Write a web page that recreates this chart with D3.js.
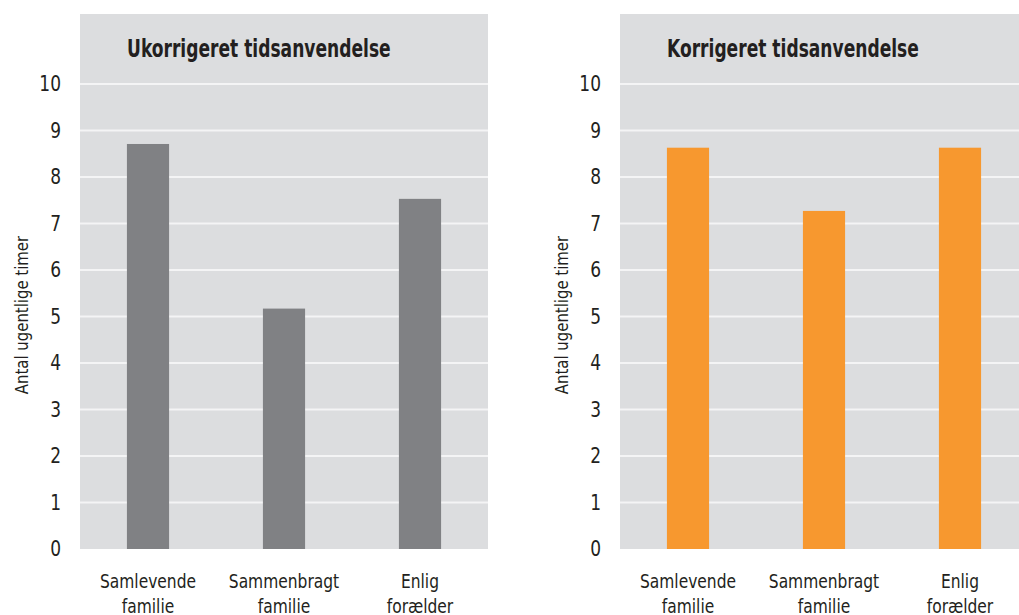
<!DOCTYPE html>
<html>
<head>
<meta charset="utf-8">
<script src="https://cdn.jsdelivr.net/npm/d3@7"></script>
<style>
  body { margin: 0; background: #fff; }
  svg text { font-family: "DejaVu Sans Condensed", "Open Sans", sans-serif; fill: #231f20; }
</style>
</head>
<body>
<div id="chart"></div>
<script>
// data
const categories = [["Samlevende", "familie"], ["Sammenbragt", "familie"], ["Enlig", "forælder"]];
const uncorrected = [8.71, 5.17, 7.53];
const corrected = [8.63, 7.27, 8.63];
const titles = ["Ukorrigeret tidsanvendelse", "Korrigeret tidsanvendelse"];
const colors = ["#808184", "#f7982f"];
const yTicks = [0, 1, 2, 3, 4, 5, 6, 7, 8, 9, 10];
const yLabel = "Antal ugentlige timer";

const width = 1019, height = 615;

const svg = d3
  .select("#chart")
  .append("svg")
  .attr("width", width)
  .attr("height", height);

const panelW = 408;
const panelTop = 14, panelBottom = 549;

const y = d3.scaleLinear().domain([0, 10]).range([panelBottom, panelBottom - 465]);

//squeeze text horizontally so it looks like the narrow font in the original.
//anchor is handled here (start/middle/end) since textLength + anchor is unreliable
function condense(sel, factor, anchor) {
  sel.each(function () {
    const el = d3.select(this);
    const w = this.getComputedTextLength() * factor;
    const x0 = +el.attr("x") || 0;
    let x = x0;
    if (anchor === "middle") x = x0 - w / 2;
    if (anchor === "end") x = x0 - w;
    el.attr("text-anchor", "start")
      .attr("x", x)
      .attr("textLength", w)
      .attr("lengthAdjust", "spacingAndGlyphs");
  });
}

function drawPanel(offsetX, values, title, color) {
  const g = svg.append("g").attr("transform", `translate(${offsetX},0)`);

  const x = d3
    .scaleBand()
    .domain(d3.range(values.length))
    .range([0, panelW])
    .paddingInner(0.69)
    .paddingOuter(0.345);

  //grey background
  g.append("rect")
    .attr("x", 0)
    .attr("y", panelTop)
    .attr("width", panelW)
    .attr("height", panelBottom - panelTop)
    .attr("fill", "#dcdddf");

  //gridlines
  g.selectAll(".grid")
    .data(yTicks.filter((d) => d > 0))
    .enter()
    .append("line")
    .attr("x1", 0)
    .attr("x2", panelW)
    .attr("y1", (d) => y(d))
    .attr("y2", (d) => y(d))
    .attr("stroke", "#f4f4f5")
    .attr("stroke-width", 2);

  //tick labels
  g.selectAll(".tick")
    .data(yTicks)
    .enter()
    .append("text")
    .attr("x", -19)
    .attr("y", (d) => y(d))
    .attr("dy", "0.35em")
    .style("font-size", "21px")
    .text((d) => d)
    .call(condense, 0.9, "end");

  //bars
  g.selectAll(".bar")
    .data(values)
    .enter()
    .append("rect")
    .attr("x", (d, i) => x(i))
    .attr("width", x.bandwidth())
    .attr("y", (d) => y(d))
    .attr("height", (d) => y(0) - y(d))
    .attr("fill", color);

  //title
  g.append("text")
    .attr("x", 47)
    .attr("y", 57)
    .style("font-size", "25px")
    .style("font-weight", "bold")
    .text(title)
    .call(condense, 0.76, "start");

  //category labels
  categories.forEach((lines, i) => {
    const cx = x(i) + x.bandwidth() / 2;
    lines.forEach((l, j) => {
      g.append("text")
        .attr("x", cx)
        .attr("y", 588 + j * 25)
        .style("font-size", "20px")
        .text(l)
        .call(condense, 0.86, "middle");
    });
  });

  //y axis label
  g.append("text")
    .attr("transform", `translate(-52,315) rotate(-90)`)
    .attr("x", 0)
    .style("font-size", "18px")
    .text(yLabel)
    .call(condense, 0.92, "middle");
}

drawPanel(80, uncorrected, titles[0], colors[0]);
drawPanel(620, corrected, titles[1], colors[1]);
</script>
</body>
</html>
